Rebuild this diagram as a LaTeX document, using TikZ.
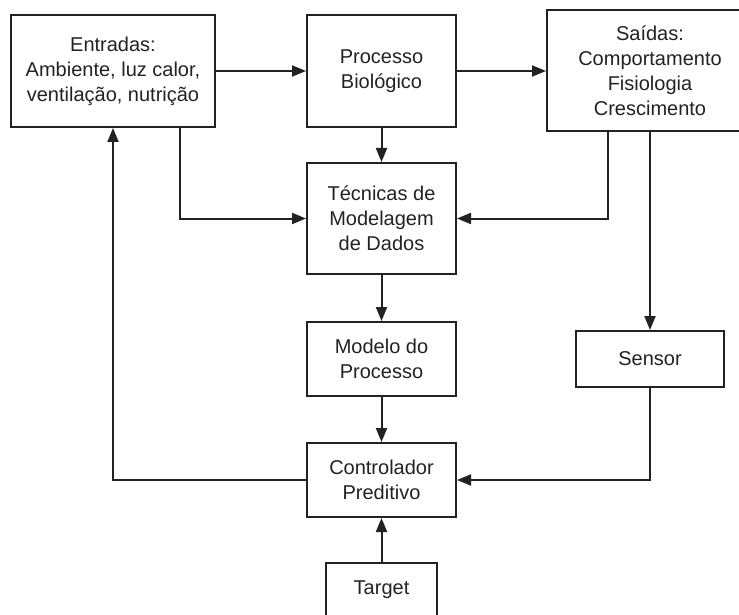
\documentclass[tikz,border=0pt]{standalone}
\usepackage{fontspec}
\setmainfont{Liberation Sans}
\usetikzlibrary{arrows.meta}
\definecolor{ink}{HTML}{222222}
\begin{document}
\begin{tikzpicture}[x=0.5pt,y=-0.5pt,
  box/.style={draw=ink,line width=1pt,rectangle,inner sep=0pt,align=center,
    text=ink,font=\fontsize{10}{12.5}\selectfont},
  arr/.style={draw=ink,line width=1pt,-{Triangle[length=7pt,width=5.5pt]}},
  ln/.style={draw=ink,line width=1pt}]
\useasboundingbox (0,0) rectangle (739,615);

\node[box,minimum width=102pt,minimum height=56pt] (ent) at (113,71)
  {Entradas:\\Ambiente, luz calor,\\ventilação, nutrição};
\node[box,minimum width=74.5pt,minimum height=56pt] (proc) at (381.5,71)
  {Processo\\Biológico};
\node[box,minimum width=103pt,minimum height=60.5pt] (sai) at (650,70.5)
  {Saídas:\\Comportamento\\Fisiologia\\Crescimento};
\node[box,minimum width=74.5pt,minimum height=55.5pt] (tec) at (381.5,218.5)
  {Técnicas de\\Modelagem\\de Dados};
\node[box,minimum width=74.5pt,minimum height=37pt] (mod) at (381.5,359)
  {Modelo do\\Processo};
\node[box,minimum width=74pt,minimum height=28pt] (sen) at (650,359)
  {Sensor};
\node[box,minimum width=74.5pt,minimum height=37pt] (ctl) at (381.5,480)
  {Controlador\\Preditivo};
\node[box,minimum width=55.5pt,minimum height=26.5pt] (tgt) at (381.5,589.5)
  {Target};

% branch points on the bottom edges
\coordinate (eDrop) at (180,0);
\coordinate (sDrop) at (608,0);

\draw[arr] (ent) -- (proc);
\draw[arr] (proc.east) -- (proc.east -| sai.west);
\draw[arr] (proc) -- (tec);
\draw[arr] (ent.south -| eDrop) |- (tec.west);
\draw[arr] (sai.south -| sDrop) |- (tec.east);
\draw[arr] (sai.south -| sen.north) -- (sen.north);
\draw[arr] (tec) -- (mod);
\draw[arr] (mod) -- (ctl);
\draw[arr] (sen.south) |- (ctl.east);
\draw[arr] (ctl.west) -| (ent.south);
\draw[arr] (tgt) -- (ctl);
\end{tikzpicture}
\end{document}
